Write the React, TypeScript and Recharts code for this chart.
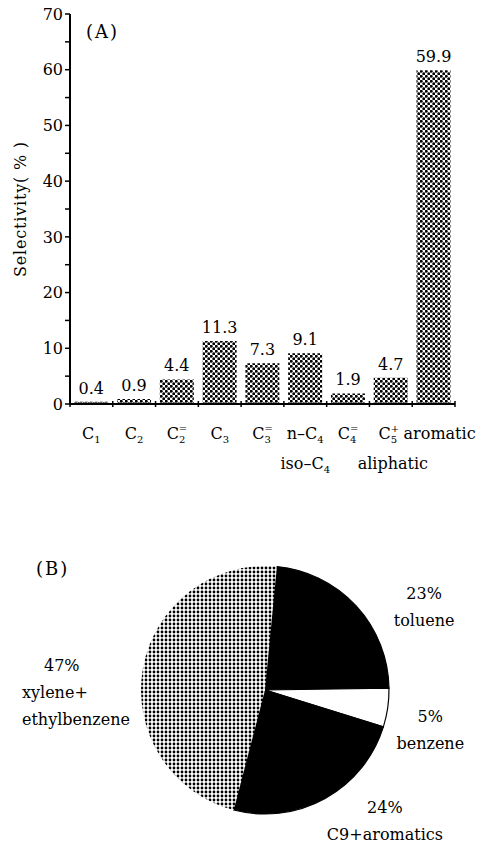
import React from 'react';
import { BarChart, Bar, XAxis, YAxis, LabelList, PieChart, Pie, Cell } from 'recharts';

const categories = ['C1', 'C2', 'C2=', 'C3', 'C3=', 'n-C4', 'C4=', 'C5+', 'aromatic'];
const selectivity = [0.4, 0.9, 4.4, 11.3, 7.3, 9.1, 1.9, 4.7, 59.9];
const yTicks = [0, 5, 10, 15, 20, 25, 30, 35, 40, 45, 50, 55, 60, 65, 70];

// how each category tick is typeset: base text, subscript, superscript
const tickParts = [
  { base: 'C', sub: '1', sup: '' },
  { base: 'C', sub: '2', sup: '' },
  { base: 'C', sub: '2', sup: '=' },
  { base: 'C', sub: '3', sup: '' },
  { base: 'C', sub: '3', sup: '=' },
  { base: 'n–C', sub: '4', sup: '' },
  { base: 'C', sub: '4', sup: '=' },
  { base: 'C', sub: '5', sup: '+' },
  { base: 'aromatic', sub: '', sup: '' },
];
const tickSecondLine = ['', '', '', '', '', 'iso–C', '', 'aliphatic', ''];
const tickSecondSub = ['', '', '', '', '', '4', '', '', ''];
const tickShift = [0, 0, 0, 0, 0, 0, 0, -2, 6];

const aromaticNames = ['toluene', 'benzene', 'C9+aromatics', 'xylene+ethylbenzene'];
const aromaticShares = [23, 5, 24, 47];
const aromaticLabelLines = [
  ['23%', 'toluene'],
  ['5%', 'benzene'],
  ['24%', 'C9+aromatics'],
  ['47%', 'xylene+', 'ethylbenzene'],
];

const barData = categories.map((c, i) => ({ name: c, value: selectivity[i] }));
const pieData = aromaticNames.map((n, i) => ({ name: n, value: aromaticShares[i] }));

const FONT = '"DejaVu Serif", "Liberation Serif", serif';
const W = 486;
const PLOT_LEFT = 70;
const PLOT_RIGHT = 31;
const BAND = (W - PLOT_LEFT - PLOT_RIGHT) / categories.length;

const sliceFill = ['#000', '#fff', '#000', 'url(#pieDots)'];
const sliceStroke = ['#000', '#000', '#000', 'none'];
// label placement relative to each slice: angle shift (deg), radius factor, anchor
const labelPlace = [
  { dA: -14.9, k: 1.45, anchor: 'middle', firstDx: 0 },
  { dA: -5.1, k: 1.37, anchor: 'middle', firstDx: 0 },
  { dA: 13.5, k: 1.43, anchor: 'middle', firstDx: 0 },
  { dA: 10.5, k: 1.96, anchor: 'start', firstDx: 22 },
];

const RAD = Math.PI / 180;

function XTick(props: any) {
  const { x, y, index } = props;
  const p = tickParts[index];
  const left = x - BAND / 2;
  const tx = x + tickShift[index];
  return (
    <g fontFamily={FONT} fill="#000">
      <line x1={left} x2={left} y1={y - 3} y2={y + 3} stroke="#000" strokeWidth={1.5} />
      {index === categories.length - 1 && (
        <line x1={left + BAND} x2={left + BAND} y1={y - 3} y2={y + 3} stroke="#000" strokeWidth={1.5} />
      )}
      <text x={tx} y={y + 35} textAnchor="middle" fontSize={16}>
        <tspan>{p.base}</tspan>
        {p.sub && (
          <tspan fontSize={10} dy={4}>
            {p.sub}
          </tspan>
        )}
        {p.sup && (
          <tspan fontSize={10} dx={-6.4} dy={-11}>
            {p.sup}
          </tspan>
        )}
      </text>
      {tickSecondLine[index] && (
        <text x={tx + (tickSecondSub[index] ? 0 : 4)} y={y + 65} textAnchor="middle" fontSize={16}>
          <tspan>{tickSecondLine[index]}</tspan>
          {tickSecondSub[index] && (
            <tspan fontSize={10} dy={4}>
              {tickSecondSub[index]}
            </tspan>
          )}
        </text>
      )}
    </g>
  );
}

function PieLabel(props: any) {
  const { cx, cy, midAngle, outerRadius, index } = props;
  const lp = labelPlace[index];
  const a = (midAngle + lp.dA) * RAD;
  const r = outerRadius * lp.k;
  const bx = cx + r * Math.cos(a);
  const by = cy - r * Math.sin(a);
  const lines = aromaticLabelLines[index];
  const lh = 27;
  const y0 = by - ((lines.length - 1) * lh) / 2 + 6;
  return (
    <text fontFamily={FONT} fontSize={16} fill="#000" textAnchor={lp.anchor}>
      {lines.map((t, i) => (
        <tspan key={i} x={bx + (i === 0 ? lp.firstDx : 0)} y={y0 + i * lh}>
          {t}
        </tspan>
      ))}
    </text>
  );
}

export default function App() {
  return (
    <div style={{ position: 'absolute', left: 0, top: 0, width: W, height: 849, background: '#fff', fontFamily: FONT }}>
      <BarChart
        width={W}
        height={480}
        data={barData}
        margin={{ top: 14, right: PLOT_RIGHT, left: 0, bottom: 0 }}
        barCategoryGap="10%"
      >
        <defs>
          <pattern id="barDots" width={5} height={5} patternUnits="userSpaceOnUse">
            <rect width={5} height={5} fill="#fff" />
            <circle cx={1.25} cy={1.25} r={1.45} fill="#000" />
            <circle cx={3.75} cy={3.75} r={1.45} fill="#000" />
          </pattern>
        </defs>
        <XAxis
          dataKey="name"
          xAxisId="b"
          tickLine={false}
          tickSize={0}
          tickMargin={0}
          height={76}
          axisLine={{ stroke: '#000', strokeWidth: 2 }}
          tick={<XTick />}
          interval={0}
        />
        <XAxis dataKey="name" xAxisId="t" orientation="top" height={0} tick={false} tickLine={false} axisLine={{ stroke: '#000', strokeWidth: 1.5 }} />
        <YAxis
          yAxisId="l"
          width={PLOT_LEFT}
          domain={[0, 70]}
          ticks={yTicks}
          interval={0}
          tickSize={5}
          tickMargin={2}
          tickLine={{ stroke: '#000', strokeWidth: 1.5 }}
          axisLine={{ stroke: '#000', strokeWidth: 2 }}
          tickFormatter={(v: number) => (v % 10 === 0 ? String(v) : '')}
          tick={{ fill: '#000', fontSize: 16, fontFamily: FONT }}
          label={{
            content: (lp: any) => {
              const vb = lp.viewBox;
              const cx = 20;
              const cy = vb.y + vb.height / 2;
              return (
                <text
                  x={cx}
                  y={cy}
                  transform={`rotate(-90 ${cx} ${cy})`}
                  textAnchor="middle"
                  dominantBaseline="central"
                  fontFamily={FONT}
                  fontSize={16}
                  letterSpacing={0.8}
                  fill="#000"
                >
                  Selectivity( % )
                </text>
              );
            },
          }}
        />
        <YAxis yAxisId="r" orientation="right" width={0} domain={[0, 70]} tick={false} tickLine={false} axisLine={{ stroke: '#000', strokeWidth: 1.5 }} />
        <Bar dataKey="value" xAxisId="b" yAxisId="l" fill="url(#barDots)" isAnimationActive={false}>
          <LabelList dataKey="value" position="top" offset={8} fill="#000" fontSize={16} fontFamily={FONT} />
        </Bar>
      </BarChart>
      <div style={{ position: 'absolute', left: 86, top: 21, fontSize: 18, letterSpacing: 2, lineHeight: '22px' }}>(A)</div>
      <div style={{ position: 'absolute', left: 36, top: 558, fontSize: 18, letterSpacing: 2, lineHeight: '22px' }}>(B)</div>
      <div style={{ position: 'absolute', left: 0, top: 470 }}>
        <PieChart width={W} height={379} margin={{ top: 0, right: 0, bottom: 0, left: 0 }}>
          <defs>
            <pattern id="pieDots" width={4} height={4} patternUnits="userSpaceOnUse">
              <rect width={4} height={4} fill="#fff" />
              <circle cx={2} cy={2} r={1.4} fill="#000" />
            </pattern>
          </defs>
          <Pie
            data={pieData}
            dataKey="value"
            nameKey="name"
            cx={265}
            cy={220}
            outerRadius={124}
            startAngle={84.5}
            endAngle={-275.5}
            label={PieLabel}
            labelLine={false}
            isAnimationActive={false}
          >
            {pieData.map((d, i) => (
              <Cell key={d.name} fill={sliceFill[i]} stroke={sliceStroke[i]} strokeWidth={1.2} />
            ))}
          </Pie>
        </PieChart>
      </div>
    </div>
  );
}
